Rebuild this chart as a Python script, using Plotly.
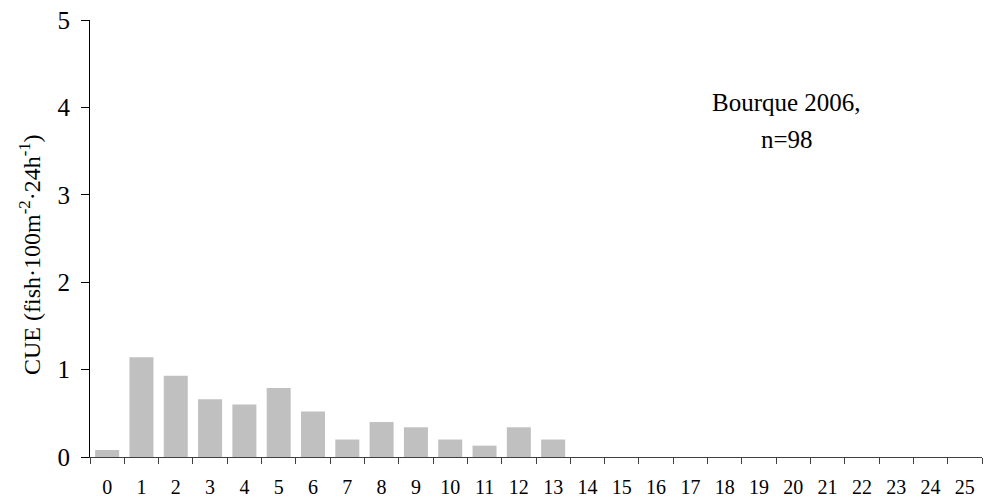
import plotly.graph_objects as go

categories = [str(i) for i in range(26)]
cue = [0.08, 1.14, 0.93, 0.66, 0.60, 0.79, 0.52, 0.20, 0.40, 0.34, 0.20, 0.13, 0.34, 0.20,
       0, 0, 0, 0, 0, 0, 0, 0, 0, 0, 0, 0]
y_ticks = [0, 1, 2, 3, 4, 5]
label_line1 = "Bourque 2006,"
label_line2 = "n=98"
y_title = "CUE (fish·100m<sup>-2</sup>·24h<sup>-1</sup>)"

font_family = "Liberation Serif, Times New Roman, serif"

fig = go.Figure()
fig.add_trace(go.Bar(x=categories, y=cue, marker=dict(color="#C0C0C0", line=dict(width=0)),
                     showlegend=False))

L, R, T, B = 90, 2, 20, 46
fig.update_layout(
    width=984, height=503,
    margin=dict(l=L, r=R, t=T, b=B),
    plot_bgcolor="white", paper_bgcolor="white",
    bargap=0.3,
    font=dict(family=font_family, color="black"),
    xaxis=dict(
        type="category", tickson="boundaries", ticks="outside", ticklen=6,
        tickcolor="#404040", showline=True, linecolor="#404040", linewidth=1,
        showgrid=False, zeroline=False, tickfont=dict(size=20, family=font_family),
        ticklabelstandoff=12,
        range=[-0.5, 25.5],
    ),
    yaxis=dict(
        range=[0, 5], tickvals=y_ticks, ticks="outside", ticklen=8, tickcolor="black",
        showline=True, linecolor="black", linewidth=1, showgrid=False, zeroline=False,
        tickfont=dict(size=25, family=font_family), ticklabelstandoff=6,
    ),
)

pw = 984 - L - R
ph = 503 - T - B
def px(xp):
    return (xp - L) / pw
def py(yp):
    return 1 - (yp - T) / ph

fig.add_annotation(text=y_title, x=px(30), y=py(255), xref="paper", yref="paper",
                   xanchor="center", yanchor="middle", textangle=-90,
                   showarrow=False, font=dict(size=24, family=font_family))
fig.add_annotation(text=label_line1, x=px(786), y=py(103), xref="paper", yref="paper",
                   xanchor="center", yanchor="middle",
                   showarrow=False, font=dict(size=25, family=font_family))
fig.add_annotation(text=label_line2, x=px(787), y=py(139), xref="paper", yref="paper",
                   xanchor="center", yanchor="middle",
                   showarrow=False, font=dict(size=25, family=font_family))

fig.write_html("out.html")
